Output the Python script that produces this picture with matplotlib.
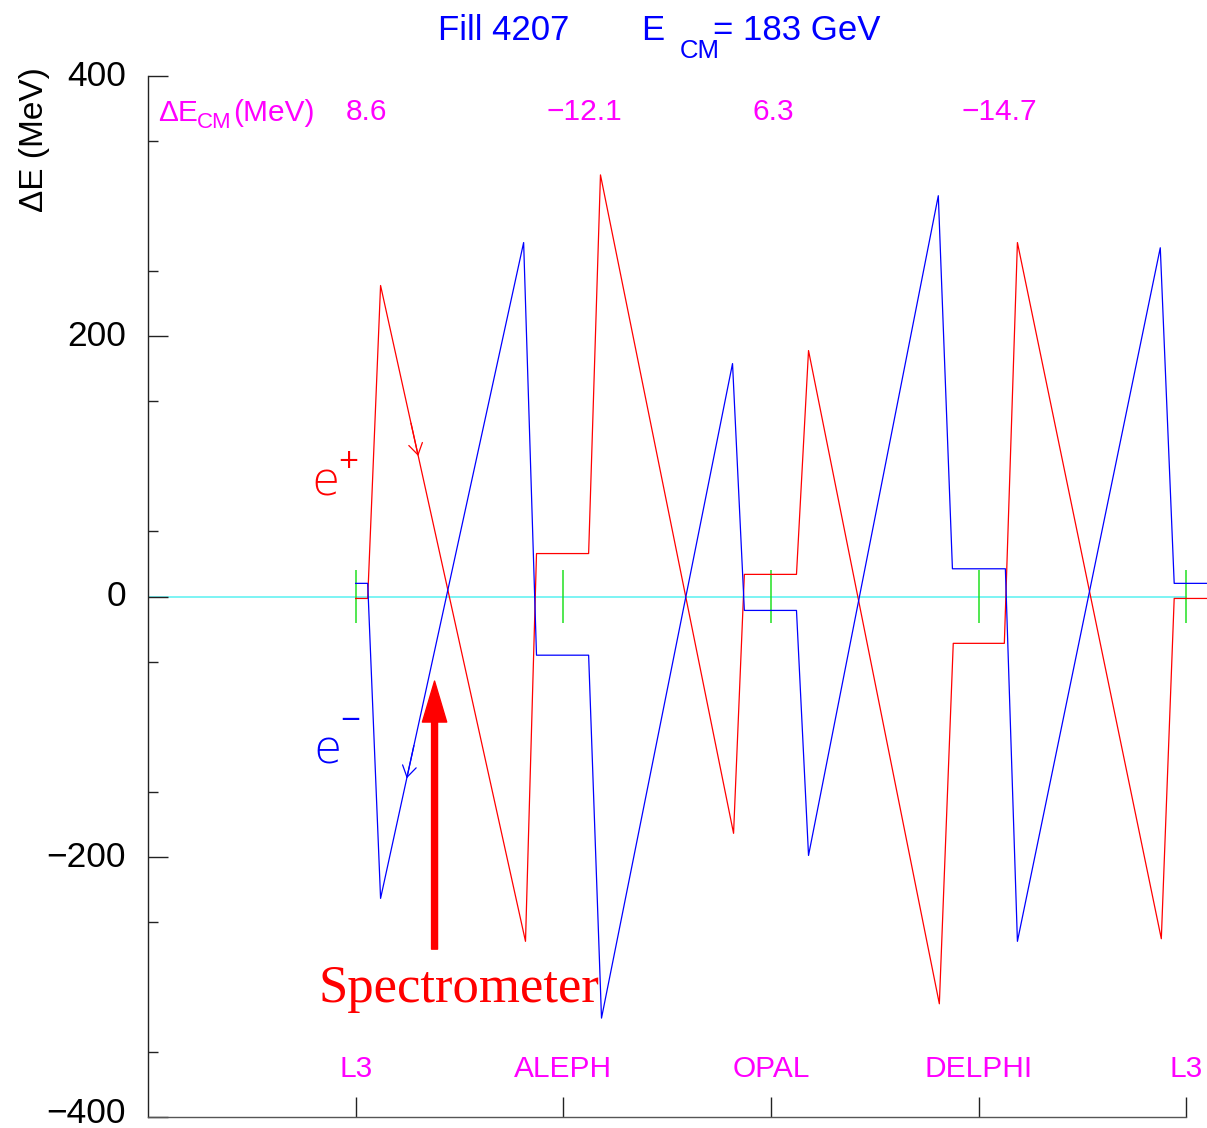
import numpy as np
import matplotlib
matplotlib.use("Agg")
import matplotlib.pyplot as plt
import matplotlib.transforms as mtransforms

plt.rcParams['font.family'] = ['Liberation Sans', 'DejaVu Sans']

# Interaction points around the ring (position in units of IP spacing)
ip_pos = [0, 1, 2, 3, 4]
ip_names = ["L3", "ALEPH", "OPAL", "DELPHI", "L3"]

# Centre-of-mass energy shift at each experiment (MeV)
decm_values = ["8.6", "\u221212.1", "6.3", "\u221214.7"]
decm_label_x = [0.05, 1.10, 2.01, 3.10]

# Positron energy deviation along the ring (MeV)
pos_x = [0.0, 0.058, 0.120, 0.818, 0.871, 1.122, 1.179, 1.820, 1.872, 2.123,
         2.181, 2.811, 2.878, 3.124, 3.187, 3.880, 3.942, 4.10]
pos_y = [-1.5, -1.5, 239, -265, 33, 33, 324, -182, 17, 17,
         189, -313, -36, -36, 272, -263, -1.5, -1.5]

# Electron energy deviation along the ring (MeV)
ele_x = [0.0, 0.058, 0.120, 0.809, 0.871, 1.122, 1.184, 1.815, 1.872, 2.123,
         2.181, 2.806, 2.874, 3.129, 3.187, 3.875, 3.942, 4.10]
ele_y = [10.1, 10.1, -232, 272, -45.1, -45.1, -324, 179, -10.7, -10.7,
         -199, 308, 21.3, 21.3, -265, 268, 10.1, 10.1]

W, H = 1207, 1128
fig = plt.figure(figsize=(W / 100, H / 100), dpi=100)
ax = fig.add_axes([148 / W, 11 / H, 1059 / W, 1041 / H])
ax.set_xlim(-1, 4.1)
ax.set_ylim(-400, 400)

# reference line and IP markers
ax.plot([ip_pos[0] - 1, ip_pos[-1]], [0, 0], color='#66f2f2', lw=1.2, zorder=1)
ax.vlines(ip_pos, -20, 20, color='#22e022', lw=1.1, zorder=2)

ax.plot(pos_x, pos_y, color='#ff0000', lw=0.9, zorder=3)
ax.plot(ele_x, ele_y, color='#0000ff', lw=0.9, zorder=3)


def direction_arrow(xs, ys, i_from, i_to, t, color):
    # small open arrowhead along a polyline segment, pointing from i_from to i_to
    p0 = np.array([xs[i_from], ys[i_from]])
    p1 = np.array([xs[i_to], ys[i_to]])
    tip = p0 + t * (p1 - p0)
    back = p0 + (t - 0.05) * (p1 - p0)
    ax.annotate('', xy=tip, xytext=back,
                arrowprops=dict(arrowstyle='->,head_length=0.8,head_width=0.5',
                                color=color, lw=0.9, shrinkA=0, shrinkB=0,
                                mutation_scale=10), zorder=4)


direction_arrow(pos_x, pos_y, 2, 3, 0.26, '#ff0000')
direction_arrow(ele_x, ele_y, 3, 2, 0.817, '#0000ff')

# beam labels
ax.text(-0.144, 78, "e", color='#ff0000', fontsize=33, family='DejaVu Sans',
        fontweight='light', ha='center', va='baseline')
ax.text(-0.034, 104, "+", color='#ff0000', fontsize=19, family='DejaVu Sans',
        ha='center', va='center')
ax.text(-0.135, -128, "e", color='#0000ff', fontsize=33, family='DejaVu Sans',
        fontweight='light', ha='center', va='baseline')
ax.text(-0.024, -95, "\u2212", color='#0000ff', fontsize=19, family='DejaVu Sans',
        ha='center', va='center')

# spectrometer arrow
ax.annotate('', xy=(0.380, -65), xytext=(0.380, -271),
            arrowprops=dict(arrowstyle='simple,head_length=2.95,head_width=1.75,tail_width=0.43',
                            color='#ff0000', shrinkA=0, shrinkB=0, mutation_scale=10),
            zorder=5)
ax.text(0.496, -312, "Spectrometer", color='#ff0000', fontsize=38,
        family='Liberation Serif', ha='center', va='baseline')

# IP names and centre-of-mass shifts
for x, name in zip(ip_pos, ip_names):
    ax.text(x, -369, name, color='#ff00ff', fontsize=21.5, ha='center', va='baseline')
for x, v in zip(decm_label_x, decm_values):
    ax.text(x, 366, v, color='#ff00ff', fontsize=21.5, ha='center', va='baseline')

fig.text(158 / W, 1 - 121 / H, "\u0394E", color='#ff00ff', fontsize=21.5,
         ha='left', va='baseline')
fig.text(197 / W, 1 - 128 / H, "CM", color='#ff00ff', fontsize=16,
         ha='left', va='baseline')
fig.text(233 / W, 1 - 121 / H, "(MeV)", color='#ff00ff', fontsize=21.5,
         ha='left', va='baseline')

# title
fig.text(438 / W, 1 - 40 / H, "Fill 4207", color='#0000ff', fontsize=25,
         ha='left', va='baseline')
fig.text(641 / W, 1 - 40 / H, "E", color='#0000ff', fontsize=25,
         ha='left', va='baseline')
fig.text(680 / W, 1 - 58 / H, "CM", color='#0000ff', fontsize=18.5,
         ha='left', va='baseline')
fig.text(713 / W, 1 - 40 / H, "= 183 GeV", color='#0000ff', fontsize=25,
         ha='left', va='baseline')

# y label
fig.text(35 / W, 1 - 140 / H, "\u0394E (MeV)", rotation=90, fontsize=24,
         ha='center', va='center', color='black')

# axes styling
for s in ['top', 'right']:
    ax.spines[s].set_visible(False)
ax.spines['left'].set_bounds(-400, 400)
ax.spines['bottom'].set_bounds(-1, 4)
ax.spines['left'].set_color('#222222')
ax.spines['bottom'].set_color('#555555')
ax.spines['left'].set_linewidth(1.0)
ax.spines['bottom'].set_linewidth(1.0)

ax.set_yticks([-400, -200, 0, 200, 400])
ax.set_yticklabels(["\u2212400", "\u2212200", "0", "200", "400"])
ax.set_yticks(np.arange(-350, 400, 100), minor=True)
ax.tick_params(axis='y', which='major', direction='in', length=14.4, width=1.0,
               labelsize=25.5, pad=16, color='#222222')
ax.tick_params(axis='y', which='minor', direction='in', length=7.2, width=1.0,
               color='#222222')
ax.set_xticks(ip_pos)
ax.set_xticklabels([])
ax.tick_params(axis='x', which='major', direction='in', length=14.4, width=1.0,
               color='#222222')

# nudge y tick labels up slightly; the lowest one a little more to keep it in frame
labels = ax.get_yticklabels()
for k, lab in enumerate(labels):
    dy = 7 if k == 0 else 3
    shift = mtransforms.ScaledTranslation(0, dy / 100, fig.dpi_scale_trans)
    lab.set_transform(lab.get_transform() + shift)

fig.savefig("out.png", dpi=100)
